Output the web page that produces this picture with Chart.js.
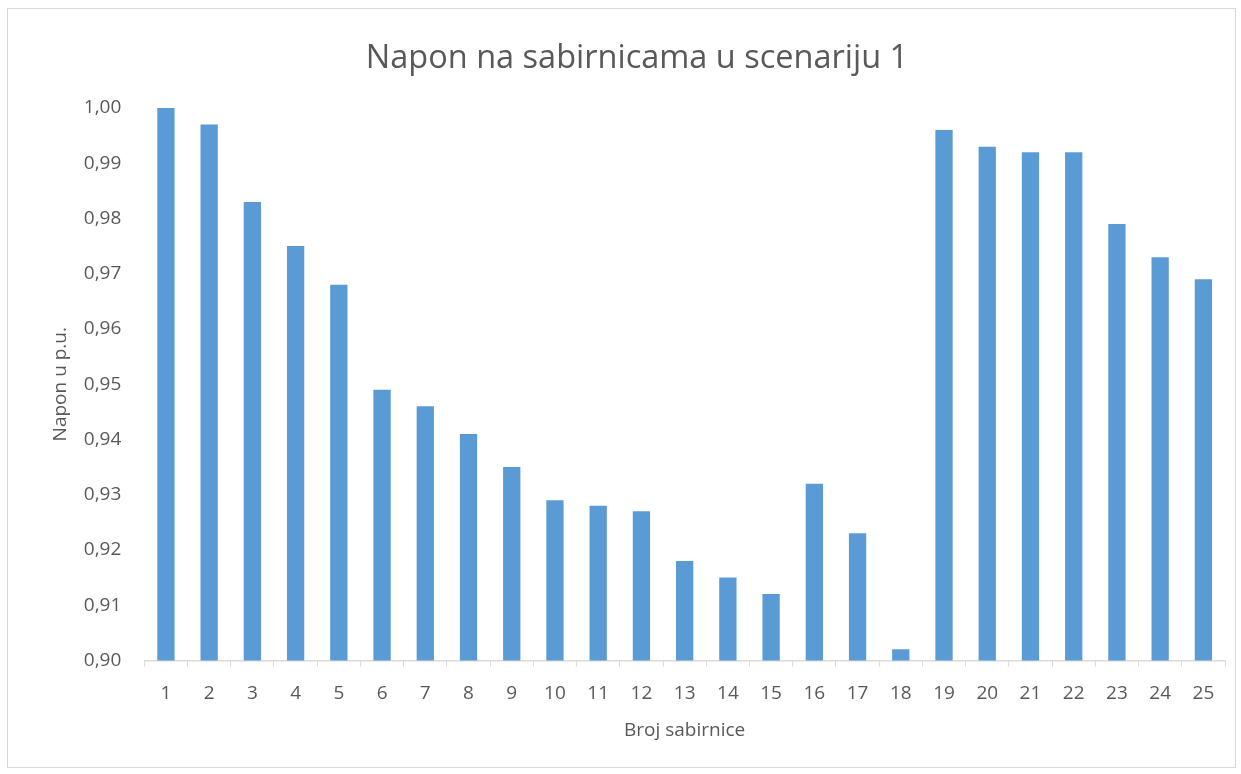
<!DOCTYPE html>
<html>
<head>
<meta charset="utf-8">
<script src="https://cdn.jsdelivr.net/npm/chart.js"></script>
<style>
  html, body { margin: 0; padding: 0; background: #fff; }
  #wrap { position: relative; width: 1241px; height: 774px; }
</style>
</head>
<body>
<div id="wrap"><canvas id="mycanvas" width="1241" height="774"></canvas></div>
<script>
// bus numbers and voltage (p.u.)
var busLabels = ["1","2","3","4","5","6","7","8","9","10","11","12","13","14","15","16","17","18","19","20","21","22","23","24","25"];
var voltage = [1.000, 0.997, 0.983, 0.975, 0.968, 0.949, 0.946, 0.941, 0.935, 0.929, 0.928, 0.927, 0.918, 0.915, 0.912, 0.932, 0.923, 0.902, 0.996, 0.993, 0.992, 0.992, 0.979, 0.973, 0.969];
var yMin = 0.90;
var yMax = 1.00;
var yStep = 0.01;

var textColor = '#595959';
var lineColor = '#d9d9d9';

// light frame around the whole chart, like the spreadsheet chart border
var framePlugin = {
  id: 'frame',
  beforeDraw: function(chart) {
    var c = chart.ctx;
    c.save();
    c.fillStyle = '#fff';
    c.fillRect(0, 0, chart.width, chart.height);
    c.strokeStyle = lineColor;
    c.lineWidth = 1;
    c.strokeRect(7.5, 8.5, 1228, 759);
    c.restore();
  }
};

var ctx = document.getElementById('mycanvas');
var Graph = new Chart(ctx, {
  type: 'bar',
  data: {
    labels: busLabels,
    datasets: [{
      label: 'Napon',
      data: voltage,
      backgroundColor: '#5b9bd5',
      borderWidth: 0,
      categoryPercentage: 1.0,
      barPercentage: 0.4
    }]
  },
  options: {
    responsive: false,
    animation: false,
    layout: { padding: { left: 49, right: 16, top: 39, bottom: 32 } },
    plugins: {
      legend: { display: false },
      tooltip: { enabled: false },
      title: {
        display: true,
        text: 'Napon na sabirnicama u scenariju 1',
        color: textColor,
        font: { family: 'Open Sans', size: 32.5, weight: 'normal' },
        padding: { top: 0, bottom: 30 }
      }
    },
    scales: {
      x: {
        grid: { display: true, drawOnChartArea: false, drawTicks: true, tickLength: 6, color: lineColor, offset: true },
        border: { display: true, color: lineColor, width: 1.5 },
        ticks: { color: textColor, font: { family: 'Open Sans', size: 19 }, padding: 16, maxRotation: 0 },
        title: { display: true, text: 'Broj sabirnice', color: textColor, font: { family: 'Open Sans', size: 19 }, padding: { top: -2, bottom: 0 } }
      },
      y: {
        min: yMin,
        max: yMax,
        grid: { display: false, drawTicks: false },
        border: { display: false },
        ticks: {
          stepSize: yStep,
          color: textColor,
          font: { family: 'Open Sans', size: 19 },
          padding: 23,
          callback: function(v) { return v.toFixed(2).replace('.', ','); }
        },
        title: { display: true, text: 'Napon u p.u.', color: textColor, font: { family: 'Open Sans', size: 19 }, padding: { top: 0, bottom: -11 } }
      }
    }
  },
  plugins: [framePlugin]
});
</script>
</body>
</html>
